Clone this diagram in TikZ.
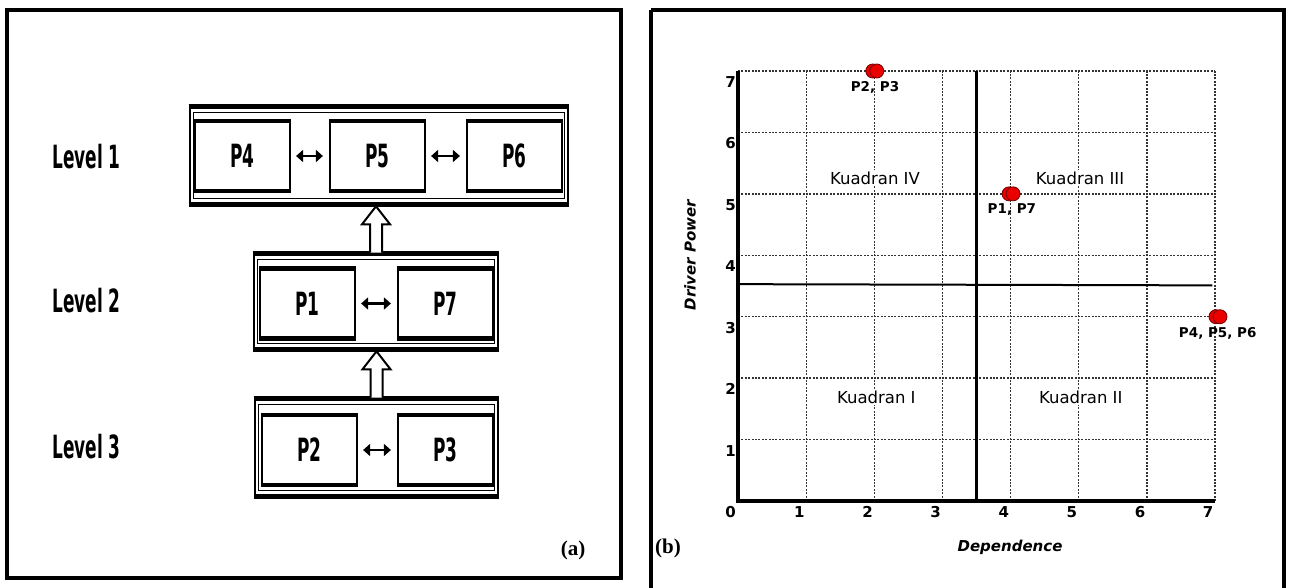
\documentclass[tikz,border=0pt]{standalone}
\usepackage{fontspec}
\setmainfont{DejaVu Sans}
\newfontfamily\condb{DejaVu Sans}[FakeStretch=0.53]
\newfontfamily\tms{Liberation Serif}
\usetikzlibrary{arrows.meta,calc}
\begin{document}
\begin{tikzpicture}[x=1pt,y=-1pt,
  panel/.style={draw, line width=3.5pt},
  lvl/.style={font=\condb\bfseries\fontsize{32}{32}\selectfont, anchor=west, inner sep=0},
  outerbox/.style={draw, line width=2.6pt, inner sep=0},
  pbox/.style={draw, line width=2.2pt, inner sep=0, minimum width=95pt, minimum height=68pt,
     font=\condb\bfseries\fontsize{32}{32}\selectfont},
  dbl/.style={line width=2.6pt, {Triangle[length=7pt,width=12pt]}-{Triangle[length=7pt,width=12pt]}, shorten <=5pt, shorten >=6pt},
  uparrow/.style={draw, line width=2pt, fill=white, line join=miter},
  gridl/.style={draw=black!80, line width=1.3pt, dash pattern=on 2pt off 1.4pt},
  tick/.style={font=\bfseries\fontsize{15}{15}\selectfont, inner sep=0},
  quad/.style={font=\fontsize{16.5}{16.5}\selectfont, fill=white, inner sep=1pt},
  plab/.style={font=\bfseries\fontsize{13.5}{13.5}\selectfont, inner sep=0},
  dot/.style={circle, draw=red!45!black, fill=red!92!black, line width=0.8pt, minimum size=14pt, inner sep=0},
  axlab/.style={font=\bfseries\itshape\fontsize{15}{15}\selectfont, inner sep=0},
  tag/.style={font=\tms\bfseries\fontsize{21}{21}\selectfont, inner sep=0}
]
\clip (0,0) rectangle (1290,587);
\useasboundingbox (0,0) rectangle (1290,587);
\fill[white] (0,0) rectangle (1290,587);

% ---------------- panel (a) ----------------
\draw[panel] (7,10) rectangle (621,578);

\node[lvl] (lv1) at (52,157) {Level 1};
\node[lvl] (lv2) at (52,301) {Level 2};
\node[lvl] (lv3) at (52,447) {Level 3};

\node[outerbox, minimum width=378pt, minimum height=95pt] (L1) at (379,155.5) {};
\node[outerbox, minimum width=244pt, minimum height=93pt] (L2) at (376,301.5) {};
\node[outerbox, minimum width=243pt, minimum height=95pt] (L3) at (376.5,447.5) {};

\node[pbox] (P4) at (242.5,156) {P4};
\node[pbox] (P5) at (377.5,156) {P5};
\node[pbox] (P6) at (514.5,156) {P6};
\node[pbox] (P1) at (307.5,303.5) {P1};
\node[pbox] (P7) at (445.5,303.5) {P7};
\node[pbox] (P2) at (309.5,450) {P2};
\node[pbox] (P3) at (445.5,450) {P3};

% heavier top/bottom edges
\foreach \n in {P4,P5,P6,P1,P7,P2,P3}{
  \draw[line width=4pt] (\n.north west) -- (\n.north east);
  \draw[line width=4pt] (\n.south west) -- (\n.south east);
}
\foreach \n in {L1,L2,L3}{
  \draw[line width=4.5pt] (\n.north west) -- (\n.north east);
  \draw[line width=4.5pt] (\n.south west) -- (\n.south east);
  \draw[line width=0.8pt] ($(\n.north west)+(5,6)$) rectangle ($(\n.south east)+(-5,-6)$);
}

\draw[dbl] (P4.east) -- (P5.west);
\draw[dbl] (P5.east) -- (P6.west);
\draw[dbl] (P1.east) -- (P7.west);
\draw[dbl] (P2.east) -- (P3.west);

% hollow up arrows
\draw[uparrow] ($(L2.north)+(-6,-1)$) -- ($(L1.south -| L2.north)+(-6,20)$) -- ++(-8,0)
  -- ($(L1.south -| L2.north)+(0,2)$) -- ($(L1.south -| L2.north)+(14,20)$) -- ++(-8,0)
  -- ($(L2.north)+(6,-1)$);
\draw[uparrow] ($(L3.north)+(-6,-1)$) -- ($(L2.south -| L3.north)+(-6,20)$) -- ++(-8,0)
  -- ($(L2.south -| L3.north)+(0,2)$) -- ($(L2.south -| L3.north)+(14,20)$) -- ++(-8,0)
  -- ($(L3.north)+(6,-1)$);

\node[tag] (ta) at (573,550) {(a)};

% ---------------- panel (b) ----------------
\draw[panel] (651,10) -- (1284,10) -- (1284,600) (651,10) -- (651,600);

\begin{scope}[shift={(738,501)}, x=68.14pt, y=61.43pt]
  \foreach \i in {1,...,7} \draw[gridl] (\i,0) -- (\i,7);
  \foreach \j in {1,...,7} \draw[gridl] (0,\j) -- (7,\j);
  \draw[line width=2.4pt] (3.5,0) -- (3.5,7);
  \draw[line width=2pt] (0,3.53) -- (6.96,3.51);
  \draw[line width=3.8pt, line join=miter] (0,7) -- (0,0) -- (7,0);

  \node[tick] (t0) at (-0.11,-0.18) {0};
  \foreach \i in {1,...,7} \node[tick] (tx\i) at (\i-0.10,-0.18) {\i};
  \foreach \j in {1,...,7} \node[tick] (ty\j) at (-0.11,\j-0.18) {\j};

  \node[quad] (q4) at (2.01,5.26) {Kuadran IV};
  \node[quad] (q3) at (5.02,5.26) {Kuadran III};
  \node[quad] (q1) at (2.03,1.69) {Kuadran I};
  \node[quad] (q2) at (5.03,1.69) {Kuadran II};

  \node[dot] (d23a) at ($(2,7)+(-1.5pt,0)$) {};
  \node[dot] (d23b) at ($(2,7)+(2.5pt,0)$) {};
  \node[dot] (d17a) at ($(4,5)+(-1.5pt,0)$) {};
  \node[dot] (d17b) at ($(4,5)+(2.5pt,0)$) {};
  \node[dot] (d456a) at ($(7,3)+(1pt,0)$) {};
  \node[dot] (d456b) at ($(7,3)+(5pt,0)$) {};

  \node[plab] (l23) at (2.01,6.74) {P2, P3};
  \node[plab] (l17) at (4.02,4.75) {P1, P7};
  \node[plab] (l456) at (7.04,2.73) {P4, P5, P6};
\end{scope}

\node[axlab] (xl) at (1010,547) {Dependence};
\node[axlab, rotate=90] (yl) at (690,255) {Driver Power};
\node[tag] (tb) at (668,548) {(b)};
\end{tikzpicture}
\end{document}
